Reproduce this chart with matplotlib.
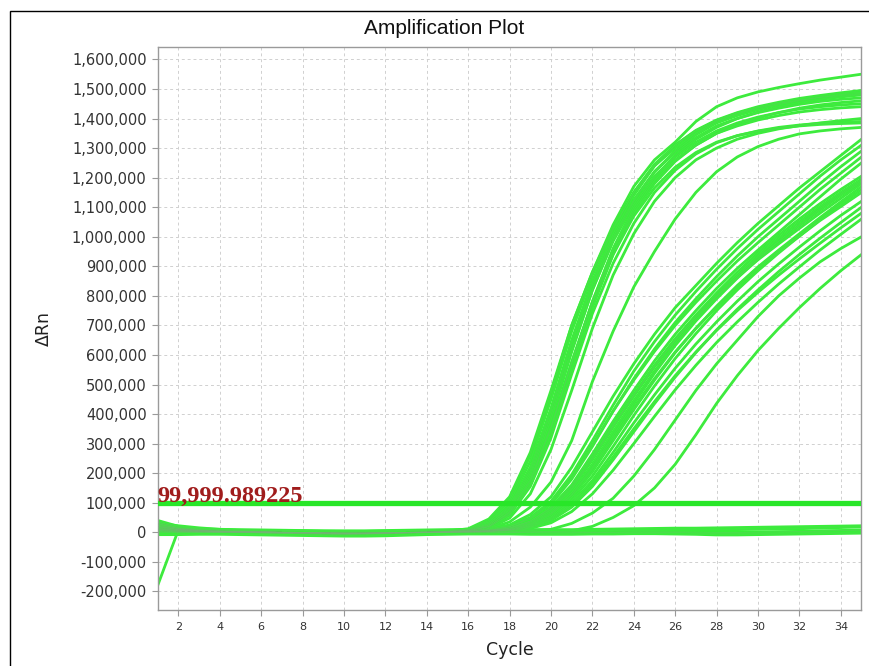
import matplotlib
matplotlib.use("Agg")
import matplotlib.pyplot as plt
from matplotlib.patches import Rectangle
from matplotlib.ticker import FuncFormatter, MultipleLocator

# cycles 1..35, values in thousands of delta Rn
cycles = list(range(1, 36))

# early amplifying wells
early_curves = [
    [30, 12, 6, 4, 3, 2, 1, 0, -2, -3, -2, -1, 0, 1, 3,
     10, 40, 110, 260, 470, 700, 880, 1040, 1170, 1260, 1320, 1390, 1440, 1470, 1490, 1505, 1518, 1530, 1540, 1550],
    [20, 8, 5, 3, 2, 1, 0, -1, -3, -4, -3, -2, 0, 1, 2,
     8, 30, 90, 220, 420, 650, 850, 1010, 1140, 1240, 1310, 1360, 1395, 1420, 1440, 1455, 1468, 1478, 1487, 1495],
    [10, 5, 3, 2, 1, 0, -1, -2, -4, -5, -4, -2, -1, 0, 2,
     6, 25, 75, 190, 380, 610, 820, 990, 1120, 1220, 1290, 1345, 1385, 1410, 1430, 1447, 1460, 1472, 1482, 1490],
    [35, 15, 8, 5, 3, 2, 1, 0, -1, -2, -2, -1, 0, 2, 4,
     12, 45, 120, 270, 480, 700, 880, 1030, 1150, 1240, 1300, 1350, 1390, 1415, 1435, 1450, 1462, 1472, 1480, 1485],
    [5, 2, 1, 0, -1, -2, -3, -4, -6, -7, -6, -4, -2, 0, 1,
     5, 20, 65, 170, 350, 570, 780, 960, 1100, 1200, 1275, 1330, 1370, 1400, 1422, 1440, 1455, 1465, 1473, 1480],
    [15, 10, 6, 4, 2, 1, 0, -1, -2, -3, -3, -2, -1, 1, 2,
     7, 28, 85, 210, 410, 640, 840, 1000, 1125, 1220, 1285, 1335, 1375, 1400, 1420, 1435, 1448, 1458, 1465, 1470],
    [25, 10, 5, 3, 2, 1, 0, -1, -2, -3, -3, -2, -1, 0, 1,
     4, 18, 60, 160, 330, 550, 760, 940, 1080, 1180, 1255, 1310, 1350, 1380, 1402, 1420, 1435, 1446, 1454, 1460],
    [0, -2, -1, 0, 0, -1, -2, -3, -5, -6, -5, -3, -2, 0, 1,
     6, 24, 80, 200, 395, 620, 820, 985, 1110, 1205, 1270, 1320, 1358, 1385, 1405, 1420, 1432, 1440, 1446, 1450],
    [12, 6, 4, 3, 2, 1, 0, -1, -2, -2, -2, -1, 0, 1, 2,
     5, 20, 68, 175, 355, 575, 780, 955, 1090, 1190, 1260, 1310, 1350, 1375, 1395, 1410, 1422, 1430, 1436, 1440],
    [18, 8, 4, 2, 1, 0, -1, -2, -3, -4, -4, -3, -1, 0, 1,
     3, 14, 48, 130, 280, 480, 690, 870, 1010, 1120, 1200, 1260, 1300, 1330, 1350, 1365, 1376, 1385, 1393, 1400],
    [8, 4, 2, 1, 0, -1, -2, -3, -4, -5, -4, -3, -2, 0, 1,
     4, 17, 58, 155, 320, 535, 740, 910, 1045, 1150, 1225, 1280, 1318, 1342, 1358, 1370, 1378, 1384, 1388, 1390],
    [28, 12, 6, 4, 2, 1, 0, -1, -2, -3, -3, -2, -1, 1, 2,
     5, 20, 70, 180, 360, 575, 775, 940, 1070, 1165, 1235, 1285, 1320, 1342, 1357, 1367, 1375, 1380, 1383, 1385],
    [10, 4, 2, 1, 0, -1, -2, -3, -4, -5, -4, -3, -2, -1, 0,
     3, 12, 35, 85, 170, 310, 510, 680, 830, 950, 1060, 1150, 1220, 1270, 1305, 1330, 1348, 1358, 1365, 1370],
    [22, 9, 5, 3, 2, 1, 0, -1, -3, -4, -3, -2, 0, 1, 3,
     9, 35, 100, 240, 450, 680, 870, 1025, 1150, 1245, 1310, 1358, 1393, 1418, 1437, 1452, 1463, 1471, 1477, 1482],
]

# later amplifying wells
late_curves = [
    [40, 20, 10, 6, 4, 2, 1, 0, -1, -2, -2, -1, 0, 1, 2, 4,
     10, 25, 60, 120, 220, 340, 460, 570, 670, 760, 835, 910, 980, 1045, 1105, 1165, 1220, 1275, 1330],
    [15, 8, 5, 3, 2, 1, 0, -1, -2, -3, -3, -2, -1, 0, 1, 3,
     8, 20, 50, 105, 195, 310, 430, 545, 645, 735, 815, 890, 960, 1025, 1085, 1145, 1205, 1260, 1310],
    [5, 3, 2, 1, 0, -1, -2, -3, -4, -5, -4, -3, -2, -1, 0, 2,
     6, 18, 45, 95, 180, 290, 410, 520, 620, 710, 790, 865, 935, 1000, 1060, 1120, 1180, 1237, 1290],
    [25, 12, 6, 4, 2, 1, 0, -1, -2, -3, -2, -1, 0, 1, 2, 3,
     7, 19, 48, 100, 185, 295, 410, 515, 612, 700, 778, 850, 918, 980, 1040, 1100, 1160, 1215, 1270],
    [10, 5, 3, 2, 1, 0, -1, -2, -3, -4, -4, -3, -1, 0, 1, 2,
     5, 15, 38, 85, 160, 265, 375, 480, 580, 670, 750, 825, 893, 955, 1015, 1075, 1135, 1195, 1250],
    [30, 14, 7, 4, 3, 1, 0, -1, -2, -3, -3, -2, -1, 0, 1, 2,
     5, 14, 35, 78, 150, 250, 360, 465, 565, 655, 735, 810, 880, 945, 1005, 1060, 1112, 1160, 1205],
    [0, -1, 0, 0, -1, -2, -3, -4, -5, -6, -5, -4, -2, -1, 0, 1,
     4, 12, 30, 70, 135, 230, 340, 445, 545, 640, 722, 798, 868, 935, 995, 1050, 1102, 1150, 1195],
    [18, 9, 5, 3, 2, 1, 0, -1, -2, -3, -3, -2, -1, 0, 1, 2,
     4, 10, 28, 65, 128, 220, 328, 435, 538, 632, 715, 790, 860, 925, 985, 1040, 1095, 1145, 1190],
    [12, 6, 3, 2, 1, 0, -1, -2, -3, -4, -4, -3, -2, 0, 1, 2,
     5, 13, 33, 75, 145, 245, 355, 460, 560, 650, 730, 802, 868, 930, 985, 1038, 1090, 1140, 1185],
    [22, 10, 5, 3, 2, 1, 0, -1, -2, -2, -2, -1, 0, 1, 2, 3,
     6, 15, 38, 82, 155, 255, 362, 465, 562, 650, 728, 798, 862, 922, 976, 1028, 1080, 1130, 1180],
    [8, 4, 2, 1, 0, -1, -2, -3, -4, -5, -5, -3, -2, -1, 0, 1,
     3, 9, 24, 58, 118, 205, 310, 415, 515, 608, 690, 765, 835, 898, 955, 1010, 1065, 1118, 1170],
    [28, 13, 6, 4, 2, 1, 0, -1, -2, -3, -3, -2, -1, 0, 1, 2,
     3, 8, 22, 52, 108, 190, 290, 395, 495, 588, 672, 750, 820, 885, 945, 1002, 1058, 1110, 1160],
    [2, 0, 0, -1, -1, -2, -3, -4, -5, -6, -6, -4, -3, -1, 0, 1,
     3, 10, 26, 62, 125, 215, 320, 422, 520, 610, 690, 762, 830, 893, 950, 1002, 1055, 1102, 1150],
    [14, 7, 4, 2, 1, 0, -1, -2, -3, -3, -3, -2, -1, 0, 1, 2,
     3, 8, 20, 48, 98, 175, 270, 370, 465, 555, 637, 712, 782, 848, 908, 965, 1020, 1072, 1120],
    [35, 16, 8, 4, 2, 1, 0, -1, -2, -3, -3, -2, -1, 0, 0, 1,
     2, 6, 16, 40, 85, 155, 245, 340, 435, 525, 608, 685, 755, 820, 882, 940, 995, 1048, 1100],
    [6, 3, 1, 0, -1, -2, -3, -4, -5, -5, -5, -4, -2, -1, 0, 1,
     2, 7, 18, 44, 92, 165, 255, 350, 442, 530, 610, 683, 750, 812, 870, 925, 978, 1030, 1080],
    [20, 9, 5, 3, 1, 0, -1, -2, -3, -4, -3, -2, -1, 0, 0, 1,
     2, 5, 13, 32, 70, 130, 210, 300, 392, 482, 565, 642, 712, 778, 840, 898, 955, 1008, 1060],
    [12, 6, 3, 2, 1, 0, -1, -2, -3, -4, -4, -3, -2, -1, 0, 0, 1, 3, 6,
     10, 30, 65, 115, 190, 280, 380, 480, 570, 650, 730, 800, 860, 915, 960, 1000],
    [3, 1, 0, -1, -2, -3, -4, -5, -6, -7, -6, -5, -3, -2, -1, 0, 0, 1, 2, 3,
     5, 20, 50, 90, 150, 230, 330, 436, 530, 615, 690, 760, 825, 885, 940],
]

# wells that never amplify
flat_curves = [
    [30, 22, 15, 10, 6, 3, 1, 0, -2, -3, -3, -2, -1, 0, 1, 1, 0, 0, -1, -1,
     0, 0, 1, 1, 0, 0, -1, -2, -2, -1, 0, 2, 4, 6, 8],
    [5, 3, 2, 1, 0, -2, -4, -6, -8, -9, -8, -6, -4, -2, -1, 0, 0, -1, -2, -3,
     -3, -2, -1, 0, 0, -1, -3, -5, -5, -4, -3, -2, -1, 0, 1],
    [12, 9, 8, 7, 6, 6, 5, 5, 4, 3, 3, 4, 5, 6, 6, 5, 5, 4, 4, 3,
     3, 4, 5, 6, 7, 8, 8, 8, 9, 10, 11, 12, 14, 16, 18],
    [-8, -8, -7, -7, -8, -9, -10, -11, -12, -13, -13, -12, -10, -8, -7, -6, -6, -6, -7, -7,
     -7, -6, -6, -5, -5, -6, -7, -9, -9, -8, -7, -6, -5, -4, -3],
    [18, 14, 12, 10, 9, 8, 7, 6, 5, 5, 5, 6, 7, 8, 9, 10, 10, 10, 9, 9,
     9, 10, 11, 12, 13, 14, 14, 15, 16, 17, 18, 19, 20, 21, 22],
    [-180, 8, 5, 3, 2, 1, 0, -1, -2, -3, -3, -2, -1, 0, 1, 1, 1, 0, 0, -1,
     -1, 0, 0, 1, 2, 2, 1, 0, 0, 1, 2, 3, 4, 5, 6],
]

threshold = 99999.989225
threshold_label = "99,999.989225"

GREEN = "#38f038"
CORE = "#78b478"

fig = plt.figure(figsize=(8.7, 6.66), dpi=100)
fig.patch.set_facecolor("white")

# outer panel border (only left and top edges are visible in the crop)
fig.patches.append(Rectangle((10 / 870, -0.1), 1.2, 1 - 11 / 666 + 0.1,
                             transform=fig.transFigure, fill=False,
                             edgecolor="black", linewidth=1.0))

ax = fig.add_axes([157.7 / 870, 1 - 610 / 666, (861.5 - 157.7) / 870, 563 / 666])

for curve in flat_curves + early_curves + late_curves:
    vals = [v * 1000 for v in curve]
    ax.plot(cycles, vals, color=GREEN, linewidth=2.0, solid_joinstyle="round", zorder=2)
    ax.plot(cycles, vals, color=CORE, linewidth=0.4, alpha=0.3, zorder=3)

ax.axhline(threshold, color="#28e628", linewidth=3.8, zorder=4)
ax.text(1.0, threshold + 4000, threshold_label, color="#a01c1c", fontsize=17.5,
        fontweight="bold", family="Liberation Serif", ha="left", va="baseline", zorder=5)

ax.set_xlim(1, 35)
ax.set_ylim(-263000, 1642000)
ax.xaxis.set_major_locator(MultipleLocator(2))
ax.yaxis.set_major_locator(MultipleLocator(100000))
ax.yaxis.set_major_formatter(FuncFormatter(lambda v, p: f"{int(round(v)):,}"))

ax.grid(True, color="#d0d0d0", linestyle=(0, (3, 3)), linewidth=0.7)
ax.set_axisbelow(True)
for s in ax.spines.values():
    s.set_color("#9a9a9a")
    s.set_linewidth(1.0)
ax.tick_params(axis="both", direction="out", length=4, color="#9a9a9a", width=0.8)
ax.tick_params(axis="y", labelsize=10.5, pad=4)
ax.tick_params(axis="x", labelsize=8, pad=5)
for lab in ax.get_yticklabels() + ax.get_xticklabels():
    lab.set_color("#333333")

ax.set_xlabel("Cycle", fontsize=12.5, color="#222222", labelpad=6)
ax.set_ylabel("ΔRn", fontsize=12.5, color="#222222", labelpad=14)

fig.text(444 / 870, 1 - 28 / 666, "Amplification Plot", fontsize=15, color="#111111",
         ha="center", va="center", family="Liberation Sans")

plt.savefig("out.png", dpi=100, facecolor="white")
